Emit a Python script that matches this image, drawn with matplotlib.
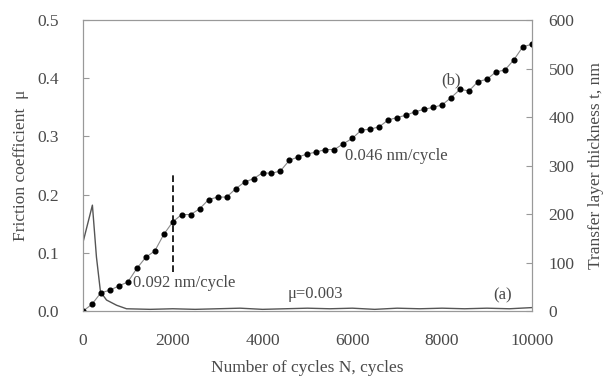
import matplotlib.pyplot as plt
import numpy as np

plt.rcParams['font.family'] = ['Liberation Serif', 'DejaVu Serif']

# transfer layer thickness (b), read every 200 cycles
cycles_b = np.arange(0, 10001, 200)
thickness_b = [0, 14, 38, 43, 52, 60, 88, 111, 124, 158,
               184, 199, 199, 211, 230, 235, 235, 252, 266, 273,
               285, 284, 289, 311, 318, 324, 328, 333, 333, 345,
               356, 373, 375, 380, 394, 399, 404, 411, 416, 420,
               425, 440, 457, 454, 473, 478, 493, 497, 518, 545, 550]

# friction coefficient (a)
cycles_a = [0, 210, 300, 390, 525, 750, 970, 1500, 2000, 2500, 3000, 3500,
            4000, 4500, 5000, 5500, 6000, 6500, 7000, 7500, 8000, 8500,
            9000, 9500, 10000]
mu_a = [0.118, 0.182, 0.093, 0.033, 0.019, 0.010, 0.004, 0.003, 0.004, 0.003,
        0.004, 0.005, 0.003, 0.004, 0.005, 0.004, 0.005, 0.003, 0.005, 0.004,
        0.005, 0.004, 0.005, 0.004, 0.006]

txt = '#4a4a4a'
fig, ax = plt.subplots(figsize=(6.03, 3.78), dpi=100)
fig.subplots_adjust(left=0.1376, right=0.882, top=0.947, bottom=0.177)
ax2 = ax.twinx()

ax.plot(cycles_a, mu_a, color='#555555', lw=1.0)
ax2.plot(cycles_b, thickness_b, color='#888888', lw=0.8, marker='o',
         ms=3.4, mfc='black', mec='black')
ax2.plot([2000, 2000], [81, 280], color='black', lw=1.2, ls=(0, (4, 2)))

ax.set_xlim(0, 10000)
ax.set_ylim(0, 0.5)
ax2.set_ylim(0, 600)
ax.set_xticks([0, 2000, 4000, 6000, 8000, 10000])
ax.set_yticks([0.0, 0.1, 0.2, 0.3, 0.4, 0.5])
ax.set_yticklabels(['0.0', '0.1', '0.2', '0.3', '0.4', '0.5'])
ax2.set_yticks([0, 100, 200, 300, 400, 500, 600])

for a in (ax, ax2):
    for s in a.spines.values():
        s.set_color('#999999')
ax.tick_params(axis='x', length=0, pad=16, labelsize=12.5, labelcolor=txt)
ax.tick_params(axis='y', direction='in', length=4, color='#999999', pad=17,
               labelsize=12.5, labelcolor=txt)
ax2.tick_params(axis='y', direction='in', length=4, color='#999999', pad=12,
                labelsize=12.5, labelcolor=txt)

ax.set_xlabel('Number of cycles N, cycles', fontsize=12.5, color=txt, labelpad=8)
ax.set_ylabel('Friction coefficient  \u03bc', fontsize=12.5, color=txt, labelpad=6)
ax2.set_ylabel('Transfer layer thickness t, nm', fontsize=12.5, color=txt,
               rotation=90, labelpad=10)

ax2.text(1120, 57, '0.092 nm/cycle', fontsize=12, color=txt, va='center', ha='left')
ax2.text(5840, 320, '0.046 nm/cycle', fontsize=12, color=txt, va='center', ha='left')
ax2.text(4570, 35, '\u03bc=0.003', fontsize=12, color=txt, va='center', ha='left')
ax2.text(8200, 476, '(b)', fontsize=12, color=txt, va='center', ha='center')
ax2.text(9350, 33, '(a)', fontsize=12, color=txt, va='center', ha='center')

plt.savefig('out.png', dpi=100)
